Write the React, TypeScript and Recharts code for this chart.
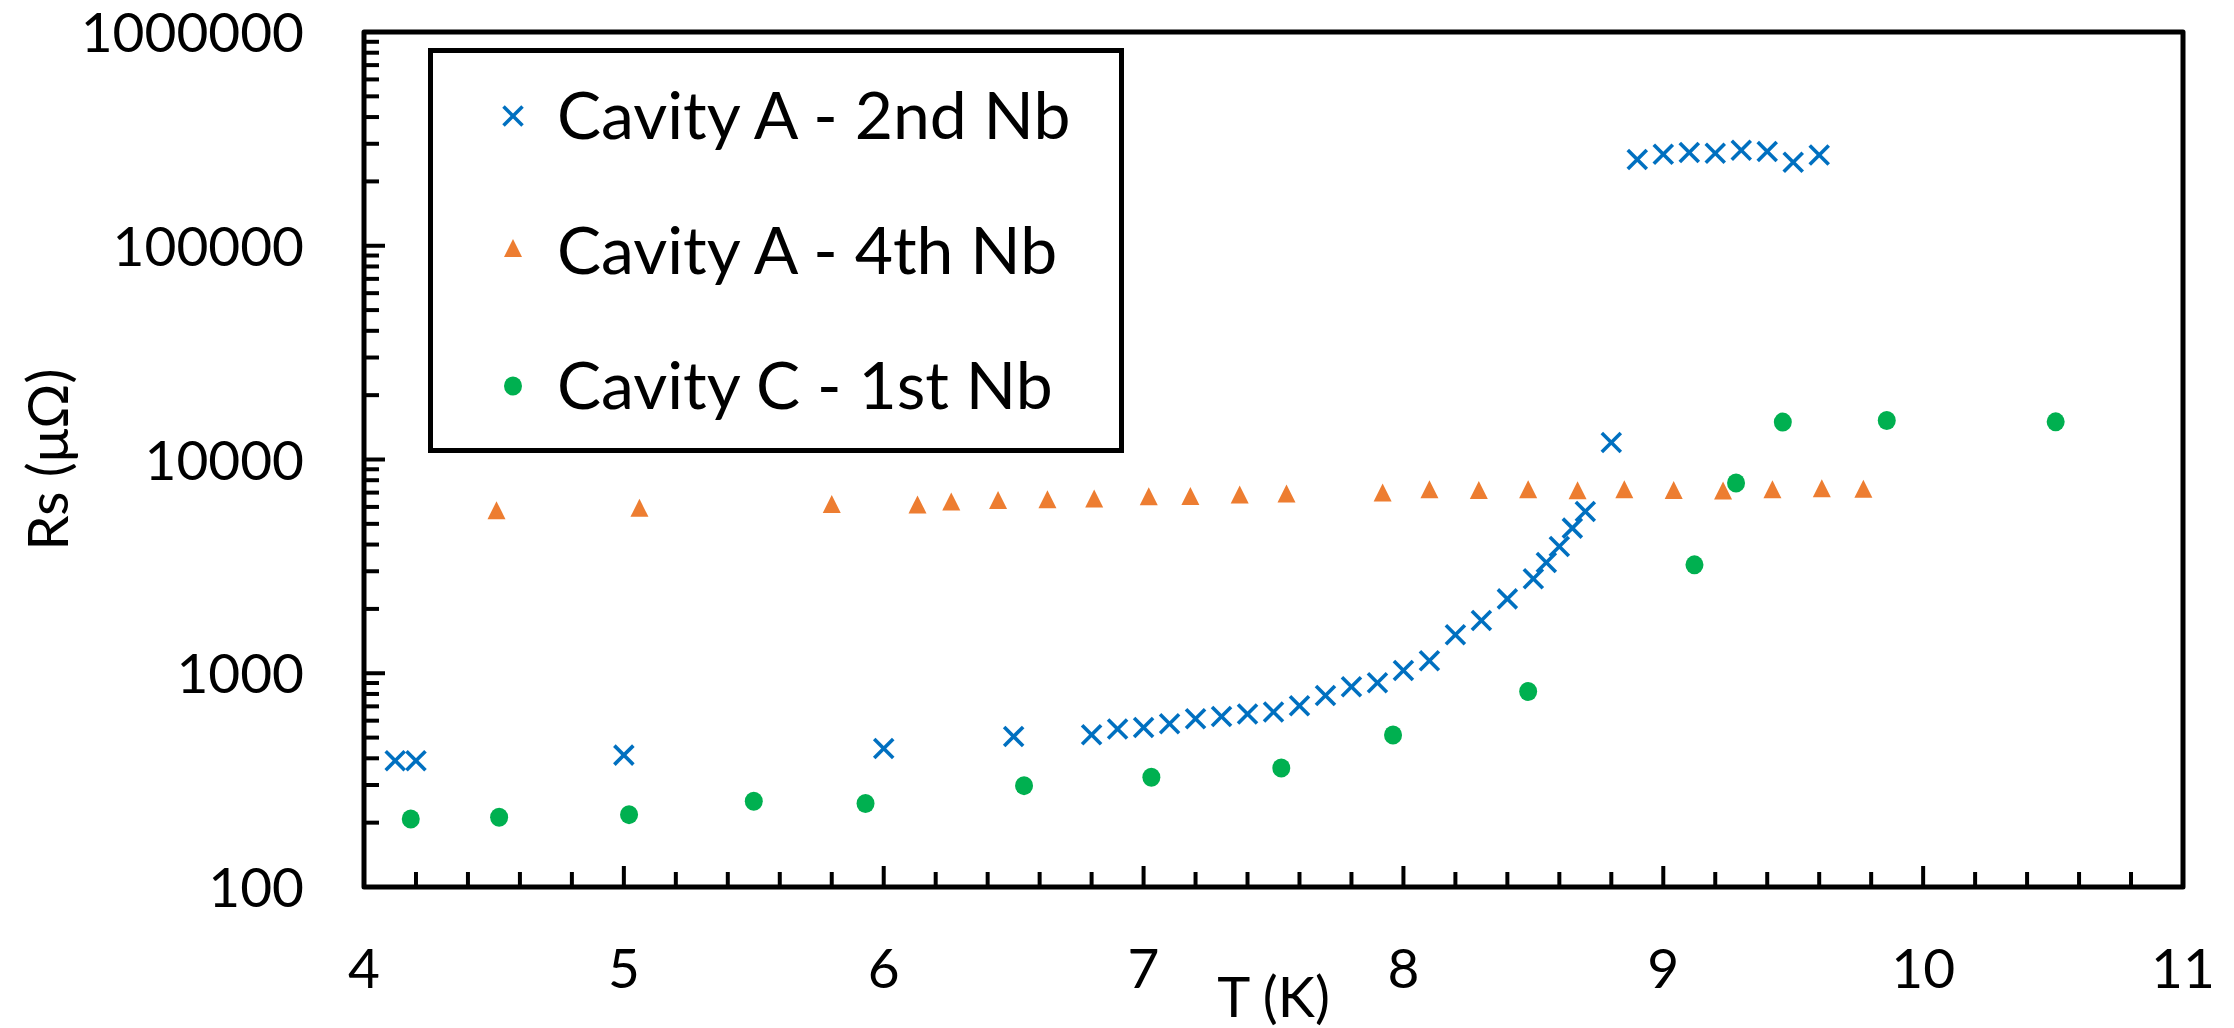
import React from 'react';
import { ScatterChart, Scatter, XAxis, YAxis, ReferenceArea, Legend, Label } from 'recharts';

const FONT = 'Lato, "Open Sans", sans-serif';
const BLUE = '#0070C0';
const ORANGE = '#ED7D31';
const GREEN = '#00B050';

// Cavity A - 2nd Nb
const blueT = [4.12, 4.2, 5.0, 6.0, 6.5, 6.8, 6.9, 7.0, 7.1, 7.2, 7.3, 7.4, 7.5, 7.6, 7.7, 7.8, 7.9, 8.0, 8.1, 8.2, 8.3, 8.4, 8.5, 8.55, 8.6, 8.65, 8.7, 8.8, 8.9, 9.0, 9.1, 9.2, 9.3, 9.4, 9.5, 9.6];
const blueR = [390, 390, 414, 445, 506, 515, 548, 558, 580, 613, 628, 644, 659, 705, 787, 865, 903, 1030, 1144, 1514, 1766, 2228, 2766, 3299, 3917, 4775, 5711, 12020, 253000, 268000, 273000, 271000, 280000, 276000, 246000, 266000];

// Cavity A - 4th Nb
const orangeT = [4.51, 5.06, 5.8, 6.13, 6.26, 6.44, 6.63, 6.81, 7.02, 7.18, 7.37, 7.55, 7.92, 8.1, 8.29, 8.48, 8.67, 8.85, 9.04, 9.23, 9.42, 9.61, 9.77];
const orangeR = [5606, 5750, 5995, 5970, 6166, 6252, 6310, 6365, 6515, 6540, 6640, 6710, 6790, 7030, 6970, 7030, 6950, 7030, 6980, 6930, 7020, 7100, 7060];

// Cavity C - 1st Nb
const greenT = [4.18, 4.52, 5.02, 5.5, 5.93, 6.54, 7.03, 7.53, 7.96, 8.48, 9.12, 9.28, 9.46, 9.86, 10.51];
const greenR = [208, 212, 218, 252, 246, 298, 326, 360, 514, 822, 3214, 7760, 14960, 15210, 15000];

const seriesNames = ['Cavity A - 2nd Nb', 'Cavity A - 4th Nb', 'Cavity C - 1st Nb'];

const xMajorTicks = [4, 5, 6, 7, 8, 9, 10, 11];
const yMajorTicks = [100, 1000, 10000, 100000, 1000000];

const xAllTicks: number[] = [];
xMajorTicks.forEach((m, i) => {
  xAllTicks.push(m);
  if (i < xMajorTicks.length - 1) {
    for (let k = 1; k <= 4; k++) xAllTicks.push(Math.round((m + 0.2 * k) * 10) / 10);
  }
});
const yAllTicks: number[] = [];
yMajorTicks.forEach((m, i) => {
  yAllTicks.push(m);
  if (i < yMajorTicks.length - 1) {
    for (let d = 2; d <= 9; d++) yAllTicks.push(m * d);
  }
});

const toPoints = (ts: number[], rs: number[]) => ts.map((t, i) => ({ t, r: rs[i] }));
const dataA2 = toPoints(blueT, blueR);
const dataA4 = toPoints(orangeT, orangeR);
const dataC1 = toPoints(greenT, greenR);

const CrossMark = ({ cx, cy }: any) => (
  <g>
    <line x1={cx - 9.5} y1={cy - 9.5} x2={cx + 9.5} y2={cy + 9.5} stroke={BLUE} strokeWidth={3.6} />
    <line x1={cx - 9.5} y1={cy + 9.5} x2={cx + 9.5} y2={cy - 9.5} stroke={BLUE} strokeWidth={3.6} />
  </g>
);
const TriMark = ({ cx, cy }: any) => (
  <path d={`M${cx},${cy - 12} L${cx + 9},${cy + 6} L${cx - 9},${cy + 6} Z`} fill={ORANGE} />
);
const DotMark = ({ cx, cy }: any) => <ellipse cx={cx} cy={cy} rx={9} ry={9.5} fill={GREEN} />;

const markers: Record<string, (p: any) => React.ReactElement> = {
  'Cavity A - 2nd Nb': CrossMark,
  'Cavity A - 4th Nb': TriMark,
  'Cavity C - 1st Nb': DotMark,
};

const XTick = (props: any) => {
  const { x, y, payload } = props;
  const v = payload.value;
  const major = xMajorTicks.includes(v);
  return (
    <g>
      <line x1={x} x2={x} y1={y} y2={y - (major ? 21 : 15)} stroke="#000" strokeWidth={4} />
      {major && (
        <text x={x} y={y + 101} textAnchor="middle" fontSize={55} fontFamily={FONT} fill="#000">
          {v}
        </text>
      )}
    </g>
  );
};

const YTick = (props: any) => {
  const { x, y, payload } = props;
  const v = payload.value;
  const major = yMajorTicks.includes(v);
  return (
    <g>
      <line x1={x} x2={x + (major ? 21 : 15)} y1={y} y2={y} stroke="#000" strokeWidth={4} />
      {major && (
        <text x={x - 60} y={y + 20} textAnchor="end" fontSize={55} fontFamily={FONT} fill="#000">
          {String(v)}
        </text>
      )}
    </g>
  );
};

const LegendBox = (props: any) => {
  const payload = props.payload || [];
  return (
    <svg width={696} height={405} style={{ display: 'block' }}>
      <rect x={2.5} y={2.5} width={691} height={400} fill="#fff" stroke="#000" strokeWidth={5} />
      {payload.map((entry: any, i: number) => {
        const M = markers[entry.value];
        const cy = 68 + i * 135;
        return (
          <g key={entry.value}>
            {M ? <M cx={85} cy={cy} /> : null}
            <text x={129} y={cy + 23} fontSize={66} fontFamily={FONT} fill="#000">
              {entry.value}
            </text>
          </g>
        );
      })}
    </svg>
  );
};

export default function App() {
  return (
    <div>
      <style>{'body{margin:0;}'}</style>
      <ScatterChart width={2234} height={1028} margin={{ top: 32, right: 51, bottom: 0, left: 0 }}>
        <XAxis
          type="number"
          dataKey="t"
          domain={[4, 11]}
          ticks={xAllTicks}
          interval={0}
          allowDataOverflow
          height={141}
          axisLine={false}
          tickLine={false}
          tickSize={0}
          tickMargin={0}
          tick={<XTick />}
        >
          <Label
            content={(p: any) => {
              const vb = p.viewBox;
              return (
                <text x={vb.x + vb.width / 2} y={vb.y + 130} textAnchor="middle" fontSize={56} fontFamily={FONT} fill="#000">
                  T (K)
                </text>
              );
            }}
          />
        </XAxis>
        <YAxis
          type="number"
          dataKey="r"
          scale="log"
          domain={[100, 1000000]}
          ticks={yAllTicks}
          interval={0}
          allowDataOverflow
          width={364}
          axisLine={false}
          tickLine={false}
          tickSize={0}
          tickMargin={0}
          tick={<YTick />}
        >
          <Label
            content={(p: any) => {
              const vb = p.viewBox;
              const cx = vb.x + 46;
              const cy = vb.y + vb.height / 2;
              return (
                <text x={cx} y={cy} transform={`rotate(-90 ${cx} ${cy})`} textAnchor="middle" dominantBaseline="central" fontSize={56} fontFamily={FONT} fill="#000">
                  Rs (μΩ)
                </text>
              );
            }}
          />
        </YAxis>
        <ReferenceArea x1={4} x2={11} y1={100} y2={1000000} fill="none" stroke="#000" strokeWidth={5} strokeLinejoin="round" ifOverflow="visible" />
        <Scatter name={seriesNames[0]} data={dataA2} fill={BLUE} shape={CrossMark} isAnimationActive={false} />
        <Scatter name={seriesNames[1]} data={dataA4} fill={ORANGE} shape={TriMark} isAnimationActive={false} />
        <Scatter name={seriesNames[2]} data={dataC1} fill={GREEN} shape={DotMark} isAnimationActive={false} />
        <Legend
          layout="vertical"
          align="center"
          verticalAlign="middle"
          wrapperStyle={{ left: 428, top: 48, width: 696, height: 405, right: 'auto', bottom: 'auto' }}
          content={<LegendBox />}
        />
      </ScatterChart>
    </div>
  );
}
